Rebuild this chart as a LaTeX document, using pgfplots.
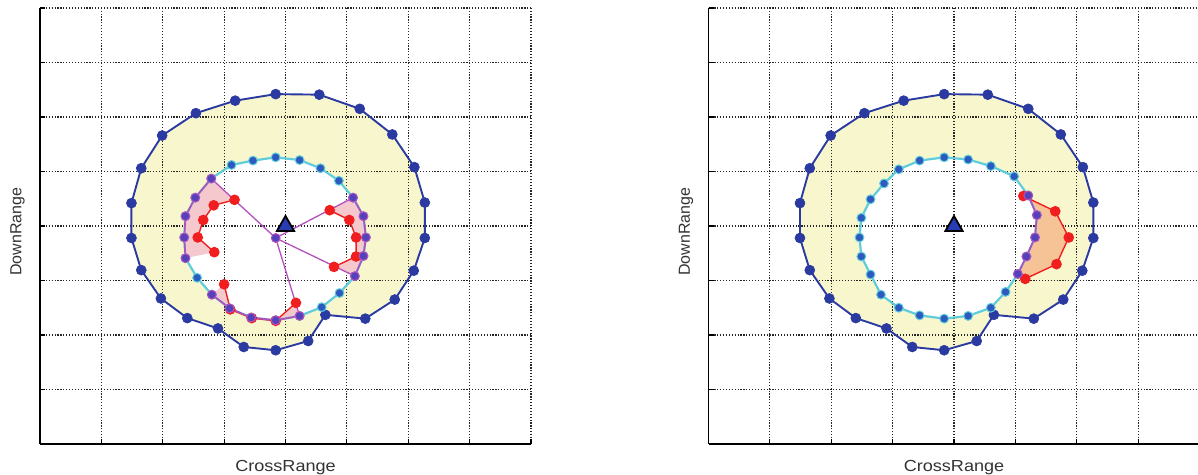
\documentclass[border=0pt]{standalone}
\usepackage{pgfplots}
\pgfplotsset{compat=1.18}
\usepackage{pgfplotstable}
\usepackage{fontspec}
\setmainfont{Liberation Sans}

\definecolor{navy}{RGB}{42,58,160}
\definecolor{annulus}{RGB}{248,246,204}
\definecolor{ringline}{RGB}{95,205,220}
\definecolor{ringdot}{RGB}{45,90,190}
\definecolor{threatline}{RGB}{180,80,190}
\definecolor{threatdot}{RGB}{85,65,185}
\definecolor{hitred}{RGB}{240,30,30}
\definecolor{hitpink}{RGB}{245,200,205}
\definecolor{hitorange}{RGB}{245,195,150}
\definecolor{tgtblue}{RGB}{40,60,180}

% outer footprint boundary (same in both panels)
\pgfplotstableread{
x y
3.84 6.42
4.55 6.41
5.21 6.15
5.74 5.68
6.10 5.08
6.27 4.43
6.27 3.78
6.09 3.18
5.78 2.65
5.30 2.30
4.65 2.37
4.37 1.89
3.84 1.72
3.32 1.78
2.90 2.12
2.40 2.31
1.97 2.67
1.65 3.19
1.49 3.78
1.49 4.42
1.65 5.06
1.99 5.66
2.54 6.07
3.18 6.30
}\outerring

% inner boundary, left panel
\pgfplotstableread{
x y
3.84 5.26
4.23 5.21
4.57 5.06
4.87 4.83
5.10 4.52
5.27 4.18
5.31 3.79
5.27 3.45
5.13 3.08
4.88 2.77
4.59 2.51
4.23 2.35
3.84 2.27
3.44 2.32
3.09 2.49
2.80 2.74
2.56 3.05
2.37 3.41
2.35 3.79
2.37 4.18
2.53 4.52
2.79 4.87
3.12 5.12
3.47 5.20
}\innerA

% inner boundary, right panel
\pgfplotstableread{
x y
3.84 5.26
4.23 5.22
4.60 5.10
4.98 4.91
5.21 4.56
5.35 4.20
5.32 3.79
5.18 3.44
5.04 3.12
4.84 2.79
4.60 2.50
4.23 2.35
3.84 2.30
3.44 2.36
3.10 2.50
2.81 2.74
2.64 3.11
2.49 3.44
2.46 3.79
2.49 4.15
2.64 4.49
2.86 4.78
3.10 5.04
3.44 5.20
}\innerB

\pgfplotsset{
  rangeplot/.style={
    set layers,
    scale only axis, width=245.5pt, height=218pt,
    xmin=0, xmax=8, ymin=0, ymax=8,
    xtick={0,...,8}, ytick={0,...,8},
    xticklabel=\empty, yticklabel=\empty,
    axis lines=left,
    axis line style={-, black, line width=0.9pt},
    tick align=inside, major tick length=2.5pt,
    tick style={black, line width=0.6pt},
    grid=major,
    major grid style={black!85, line width=0.6pt, dash pattern=on 0.6pt off 0.85pt},
    xlabel={CrossRange}, ylabel={DownRange},
    label style={font=\fontsize{8}{9}\selectfont, text=black!80},
    xlabel style={at={(axis description cs:0.5,-0.053)}, anchor=center, xscale=1.13},
    ylabel style={at={(axis description cs:-0.046,0.487)}, anchor=center},
    clip=false,
  },
  zonefill/.style={on layer=axis background, draw=none, fill=annulus},
  holefill/.style={on layer=axis background, draw=none, fill=white},
  outerline/.style={navy, line width=0.95pt, mark=*, mark size=2.5pt,
    mark options={fill=navy, draw=navy, line width=0.3pt}},
  innerline/.style={ringline, line width=1.1pt, mark=*, mark size=2.2pt,
    mark options={fill=ringdot, draw=ringline, line width=0.5pt}},
  spoke/.style={threatline, line width=0.65pt, no marks},
  arcline/.style={threatline, line width=0.85pt, mark=*, mark size=2.2pt,
    mark options={fill=threatdot, draw=threatline, line width=0.5pt}},
  redline/.style={hitred, line width=0.7pt, mark=*, mark size=2.3pt,
    mark options={fill=hitred, draw=hitred}},
  target/.style={only marks, mark=triangle*, mark size=5pt,
    mark options={fill=tgtblue, draw=black, line width=0.9pt}},
}

\begin{document}
\begin{tikzpicture}

% ---------------- left panel ----------------
\begin{axis}[rangeplot, at={(20pt,15.5pt)}, anchor=south west]
\addplot[zonefill] table {\outerring} -- cycle;
\addplot[holefill] table {\innerA} -- cycle;

% shaded gaps between the inner ring and the red contours
\addplot[draw=none, fill=hitpink] coordinates {
  (2.79,4.87) (2.53,4.52) (2.37,4.18) (2.35,3.79) (2.37,3.41)
  (2.84,3.52) (2.57,3.79) (2.66,4.11) (2.83,4.38) (3.17,4.48)} -- cycle;
\addplot[draw=none, fill=hitpink] coordinates {
  (5.10,4.52) (5.27,4.18) (5.31,3.79) (5.27,3.45) (5.13,3.08)
  (4.79,3.25) (5.15,3.44) (5.15,3.79) (5.04,4.11) (4.72,4.29)} -- cycle;
\addplot[draw=none, fill=hitpink] coordinates {
  (2.80,2.74) (3.00,2.93) (3.10,2.47)} -- cycle;
\addplot[draw=none, fill=hitpink] coordinates {
  (4.23,2.35) (4.17,2.59) (3.84,2.26)} -- cycle;

\addplot[outerline] table {\outerring} -- cycle;
\addplot[innerline] table {\innerA} -- cycle;

% spokes from the hub
\addplot[spoke] coordinates {(3.84,3.78) (2.79,4.87)};
\addplot[spoke] coordinates {(3.84,3.78) (5.10,4.52)};
\addplot[spoke] coordinates {(3.84,3.78) (5.13,3.08)};
\addplot[spoke] coordinates {(3.84,3.78) (4.23,2.35)};

% red contours
\addplot[redline] coordinates {(3.17,4.48) (2.83,4.38) (2.66,4.11) (2.57,3.79) (2.84,3.52)};
\addplot[redline] coordinates {(4.72,4.29) (5.04,4.11) (5.15,3.79) (5.15,3.44) (4.79,3.25)};
\addplot[redline] coordinates {(4.17,2.59) (3.84,2.26) (3.45,2.31) (3.10,2.47) (3.00,2.93)};

% affected arcs of the inner ring
\addplot[arcline] coordinates {(2.79,4.87) (2.53,4.52) (2.37,4.18) (2.35,3.79) (2.37,3.41)};
\addplot[arcline] coordinates {(5.10,4.52) (5.27,4.18) (5.31,3.79) (5.27,3.45) (5.13,3.08)};
\addplot[arcline] coordinates {(2.80,2.74) (3.09,2.49) (3.44,2.32) (3.84,2.27) (4.23,2.35)};
\addplot[arcline, only marks] coordinates {(3.84,3.78)};

\addplot[target] coordinates {(4.0,4.0)};
\end{axis}

% ---------------- right panel ----------------
\begin{axis}[rangeplot, at={(354.25pt,15.5pt)}, anchor=south west]
\addplot[zonefill] table {\outerring} -- cycle;
\addplot[holefill] table {\innerB} -- cycle;

\addplot[draw=none, fill=hitorange] coordinates {
  (5.21,4.56) (5.35,4.20) (5.32,3.79) (5.18,3.44) (5.04,3.12)
  (5.16,3.03) (5.67,3.30) (5.87,3.79) (5.65,4.27) (5.13,4.55)} -- cycle;

\addplot[outerline] table {\outerring} -- cycle;
\addplot[innerline] table {\innerB} -- cycle;

\addplot[redline] coordinates {(5.13,4.55) (5.65,4.27) (5.87,3.79) (5.67,3.30) (5.16,3.03)};
\addplot[arcline] coordinates {(5.21,4.56) (5.35,4.20) (5.32,3.79) (5.18,3.44) (5.04,3.12)};

\addplot[target] coordinates {(4.0,4.0)};
\end{axis}

\pgfresetboundingbox
\useasboundingbox (0,0) rectangle (599pt,237.5pt);
\end{tikzpicture}
\end{document}
